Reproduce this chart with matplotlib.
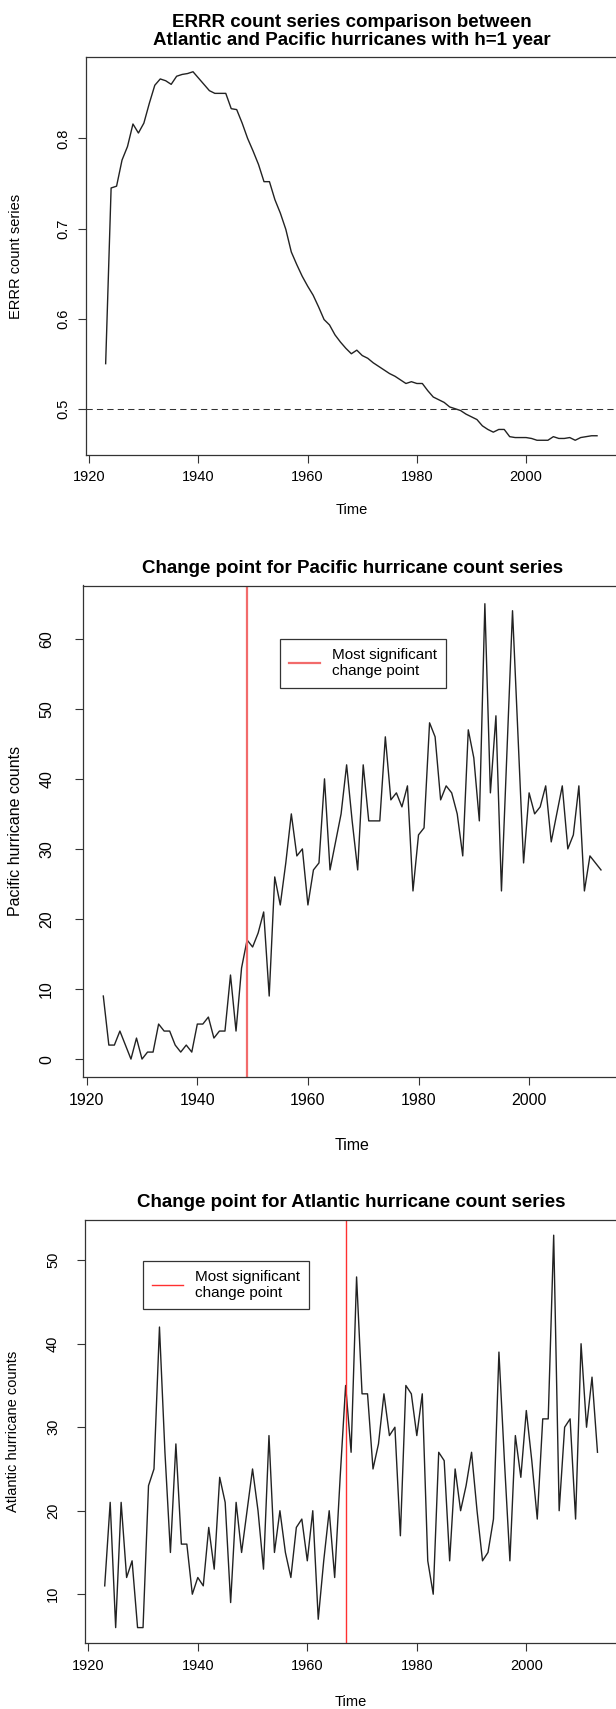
import numpy as np
import matplotlib
matplotlib.use("Agg")
import matplotlib.pyplot as plt
from matplotlib.lines import Line2D

plt.rcParams['font.family'] = ['Liberation Sans', 'DejaVu Sans']

# ---- data (yearly, 1923-2013) ----
years = np.arange(1923, 2014)

errr = [0.550, 0.745, 0.747, 0.776, 0.791, 0.816, 0.806, 0.817, 0.839, 0.859,
        0.866, 0.864, 0.860, 0.869, 0.871, 0.872, 0.874, 0.867, 0.860, 0.853,
        0.850, 0.850, 0.850, 0.833, 0.832, 0.817, 0.800, 0.786, 0.771, 0.752,
        0.752, 0.732, 0.717, 0.699, 0.674, 0.660, 0.647, 0.636, 0.626, 0.613,
        0.599, 0.593, 0.582, 0.574, 0.567, 0.561, 0.565, 0.559, 0.556, 0.551,
        0.547, 0.543, 0.539, 0.536, 0.532, 0.528, 0.530, 0.528, 0.528, 0.520,
        0.513, 0.510, 0.507, 0.502, 0.500, 0.498, 0.494, 0.491, 0.488, 0.481,
        0.477, 0.474, 0.477, 0.477, 0.469, 0.468, 0.468, 0.468, 0.467, 0.465,
        0.465, 0.465, 0.469, 0.467, 0.467, 0.468, 0.465, 0.468, 0.469, 0.470,
        0.470]

pacific = [9, 2, 2, 4, 2, 0, 3, 0, 1, 1,
           5, 4, 4, 2, 1, 2, 1, 5, 5, 6,
           3, 4, 4, 12, 4, 13, 17, 16, 18, 21,
           9, 26, 22, 28, 35, 29, 30, 22, 27, 28,
           40, 27, 31, 35, 42, 34, 27, 42, 34, 34,
           34, 46, 37, 38, 36, 39, 24, 32, 33, 48,
           46, 37, 39, 38, 35, 29, 47, 43, 34, 65,
           38, 49, 24, 44, 64, 46, 28, 38, 35, 36,
           39, 31, 35, 39, 30, 32, 39, 24, 29, 28,
           27]

atlantic = [11, 21, 6, 21, 12, 14, 6, 6, 23, 25,
            42, 27, 15, 28, 16, 16, 10, 12, 11, 18,
            13, 24, 21, 9, 21, 15, 20, 25, 20, 13,
            29, 15, 20, 15, 12, 18, 19, 14, 20, 7,
            14, 20, 12, 24, 35, 27, 48, 34, 34, 25,
            28, 34, 29, 30, 17, 35, 34, 29, 34, 14,
            10, 27, 26, 14, 25, 20, 23, 27, 20, 14,
            15, 19, 39, 26, 14, 29, 24, 32, 26, 19,
            31, 31, 53, 20, 30, 31, 19, 40, 30, 36,
            27]

pacific_cp = 1949
atlantic_cp = 1967
errr_ref = 0.5

year_ticks = [1920, 1940, 1960, 1980, 2000]
errr_ticks = [0.5, 0.6, 0.7, 0.8]
pacific_ticks = [0, 10, 20, 30, 40, 50, 60]
atlantic_ticks = [10, 20, 30, 40, 50]

W, H = 616, 1709


def px_rect(left, top, right, bottom):
    return [left / W, 1 - bottom / H, (right - left) / W, (bottom - top) / H]


def r_lim(vals):
    # R pads the data range by 4% on both sides
    lo, hi = float(np.min(vals)), float(np.max(vals))
    span = hi - lo
    return lo - 0.04 * span, hi + 0.04 * span


def style(ax, yticks, yfmt, ylabel, ylab_x, title, ypad=5, fs=10.5):
    ax.set_xlim(r_lim(years))
    ax.set_xticks(year_ticks)
    ax.set_yticks(yticks)
    ax.set_yticklabels([yfmt.format(v) for v in yticks])
    ax.tick_params(direction='out', length=6, width=0.8, labelsize=fs, color='#333333')
    ax.tick_params(axis='x', pad=5)
    ax.tick_params(axis='y', pad=ypad, labelrotation=90)
    for lbl in ax.get_yticklabels():
        lbl.set_va('center')
    for s in ax.spines.values():
        s.set_linewidth(0.9)
        s.set_color('#333333')
    ax.set_xlabel('Time', fontsize=fs, va='center')
    ax.xaxis.set_label_coords(0.5, -0.138)
    ax.set_ylabel(ylabel, fontsize=fs, va='center')
    ax.yaxis.set_label_coords(ylab_x, 0.5)
    ax.set_title(title, fontsize=13.5, fontweight='bold', pad=9, linespacing=1.05)


def add_legend(ax, left_px, top_px, fontsize, color, lw):
    h = Line2D([], [], color=color, lw=lw)
    leg = ax.legend([h], ['Most significant\nchange point'], loc='upper left',
                    bbox_to_anchor=(left_px / W, 1 - top_px / H),
                    bbox_transform=ax.figure.transFigure,
                    fontsize=fontsize, frameon=True, fancybox=False,
                    framealpha=1, edgecolor='#333333', handlelength=2.0,
                    handletextpad=0.8, borderpad=0.6, borderaxespad=0)
    leg.get_frame().set_linewidth(0.9)


fig = plt.figure(figsize=(W / 100, H / 100), dpi=100)

# ---- panel 1: ERRR series ----
ax1 = fig.add_axes(px_rect(86, 57, 616.7, 455))
ax1.plot(years, errr, color='#222222', lw=1.0)
ax1.axhline(errr_ref, color='#333333', lw=0.75, linestyle=(0, (6, 4)))
ax1.set_ylim(r_lim(errr))
style(ax1, errr_ticks, '{:.1f}', 'ERRR count series', -0.132,
      'ERRR count series comparison between\nAtlantic and Pacific hurricanes with h=1 year')

# ---- panel 2: Pacific ----
ax2 = fig.add_axes(px_rect(83.4, 585.5, 620.9, 1077.3))
ax2.plot(years, pacific, color='#222222', lw=1.0)
ax2.axvline(pacific_cp, color='#f26b6b', lw=1.6)
ax2.set_ylim(r_lim(pacific))
style(ax2, pacific_ticks, '{:d}', 'Pacific hurricane counts', -0.127,
      'Change point for Pacific hurricane count series', ypad=15, fs=11.5)
add_legend(ax2, 280, 639, 11, '#f26b6b', 1.6)

# ---- panel 3: Atlantic ----
ax3 = fig.add_axes(px_rect(85.0, 1219.5, 617.2, 1643.3))
ax3.plot(years, atlantic, color='#222222', lw=1.0)
ax3.axvline(atlantic_cp, color='#ff3030', lw=1.0)
ax3.set_ylim(r_lim(atlantic))
style(ax3, atlantic_ticks, '{:d}', 'Atlantic hurricane counts', -0.135,
      'Change point for Atlantic hurricane count series', ypad=12)
add_legend(ax3, 143.3, 1260.7, 11, '#ff3030', 1.0)

fig.savefig('out.png', dpi=100)
